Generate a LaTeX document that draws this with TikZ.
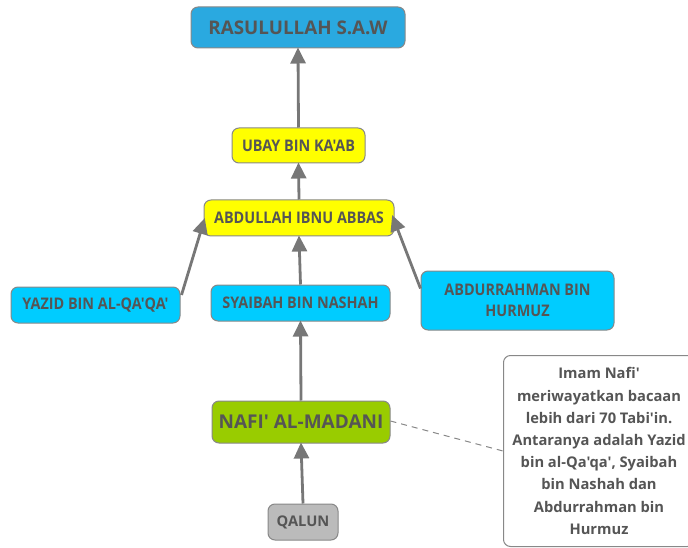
\documentclass[tikz,border=0pt]{standalone}
\usepackage{fontspec}
\setmainfont{Open Sans}[Ligatures=TeXOff]
\newfontfamily\condfont{Open Sans}[FakeStretch=0.9,Ligatures=TeXOff]
\usetikzlibrary{arrows.meta}
\definecolor{txt}{HTML}{555555}
\definecolor{bord}{HTML}{888888}
\definecolor{cblue}{HTML}{2AA9E0}
\definecolor{ccyan}{HTML}{00CCFF}
\definecolor{cyel}{HTML}{FFFF00}
\definecolor{cgreen}{HTML}{99CC00}
\definecolor{cgrey}{HTML}{BBBBBB}
\definecolor{arr}{HTML}{777777}
\tikzset{
  box/.style={draw=bord, line width=1pt, rounded corners=7pt, text=txt, font=\bfseries, align=center, inner sep=0pt},
  condbox/.style={box, font=\fontsize{16}{21}\selectfont\condfont\bfseries},
  link/.style={draw=arr, line width=2.8pt, -{Triangle[length=16pt,width=15pt]}, shorten >=-1pt},
}
\begin{document}
\begin{tikzpicture}[x=1pt,y=-1pt]
\clip (0,0) rectangle (688,548);
\useasboundingbox (0,0) rectangle (688,548);
\node[box, fill=cblue, minimum width=214pt, minimum height=41pt, font=\fontsize{18.8}{22}\selectfont\bfseries] (ras) at (298,27.5) {RASULULLAH S.A.W};
\node[condbox, fill=cyel, minimum width=133pt, minimum height=35pt] (ubay) at (298.5,145.5) {UBAY BIN KA'AB};
\node[condbox, fill=cyel, minimum width=190pt, minimum height=36pt] (abd) at (299,218) {ABDULLAH IBNU ABBAS};
\node[condbox, fill=ccyan, minimum width=169pt, minimum height=36pt] (yaz) at (95.5,305) {YAZID BIN AL-QA'QA'};
\node[condbox, fill=ccyan, minimum width=179pt, minimum height=36pt] (sya) at (300.5,303) {SYAIBAH BIN NASHAH};
\node[condbox, fill=ccyan, minimum width=193pt, minimum height=59pt] (hur) at (517.5,300.5) {ABDURRAHMAN BIN\\HURMUZ};
\node[box, fill=cgreen, minimum width=178pt, minimum height=42pt, font=\fontsize{19}{22}\selectfont\bfseries] (naf) at (301,422) {NAFI' AL-MADANI};
\node[box, fill=cgrey, minimum width=70pt, minimum height=36pt, font=\fontsize{14.7}{17}\selectfont\bfseries] (qal) at (303,522) {QALUN};
\node[box, fill=white, draw=bord, minimum width=191pt, minimum height=191pt, anchor=north west, font=\fontsize{14.7}{22.2}\selectfont\bfseries] (note) at (503,355) {Imam Nafi'\\meriwayatkan bacaan\\lebih dari 70 Tabi'in.\\Antaranya adalah Yazid\\bin al-Qa'qa', Syaibah\\bin Nashah dan\\Abdurrahman bin\\Hurmuz};
\draw[link] (ubay.north) -- (ras.south);
\draw[link] (abd.north) -- (ubay.south);
\draw[link] (sya.north) -- (abd.south);
\draw[link] ([xshift=1pt,yshift=10pt]yaz.east) -- ([xshift=1pt,yshift=-1pt]abd.west);
\draw[link] ([xshift=0pt,yshift=12pt]hur.west) -- ([xshift=-2pt,yshift=2pt]abd.east);
\draw[link] (naf.north) -- (sya.south);
\draw[link] (qal.north) -- (naf.south);
\draw[bord, line width=1pt, dash pattern=on 6pt off 5pt] ([yshift=1pt]naf.east) -- (note.west);
\end{tikzpicture}
\end{document}
